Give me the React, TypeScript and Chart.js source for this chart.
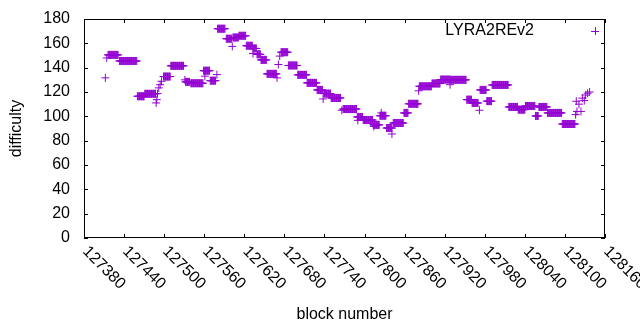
import React, { useEffect, useRef } from "react";
import { Chart, registerables } from "chart.js";

Chart.register(...registerables);

// Difficulty runs: each block from runStart[i] to runEnd[i] has difficulty runValue[i]
const runStart = [
  127412, 127414, 127416, 127433, 127460, 127471, 127488, 127489, 127490, 127492,
  127494, 127496, 127499, 127510, 127531, 127532, 127540, 127559, 127561, 127569,
  127579, 127580, 127593, 127602, 127603, 127612, 127623, 127633, 127633, 127639,
  127645, 127654, 127669, 127671, 127673, 127675, 127686, 127700, 127714, 127729,
  127738, 127739, 127750, 127766, 127768, 127789, 127790, 127798, 127813, 127814,
  127823, 127825, 127833, 127841, 127843, 127859, 127866, 127881, 127882, 127901,
  127914, 127928, 127929, 127953, 127961, 127972, 127973, 127983, 127991, 128016,
  128030, 128041, 128056, 128061, 128074, 128096, 128116, 128117, 128118, 128121,
  128124, 128126, 128129, 128131, 128134, 128137,
];
const runEnd = [
  127412, 127414, 127431, 127459, 127470, 127487, 127488, 127489, 127490, 127492,
  127494, 127496, 127509, 127529, 127531, 127538, 127558, 127568, 127561, 127577,
  127579, 127591, 127601, 127602, 127611, 127622, 127632, 127638, 127633, 127644,
  127653, 127668, 127669, 127671, 127673, 127685, 127699, 127713, 127728, 127737,
  127738, 127749, 127764, 127766, 127788, 127797, 127790, 127812, 127822, 127814,
  127832, 127825, 127841, 127841, 127858, 127865, 127880, 127881, 127900, 127913,
  127928, 127928, 127952, 127960, 127970, 127972, 127982, 127990, 128015, 128029,
  128040, 128055, 128060, 128073, 128095, 128115, 128116, 128117, 128118, 128121,
  128124, 128126, 128129, 128131, 128134, 128137,
];
const runValue = [
  131.6, 148, 150.5, 145.5, 116.5, 118.5, 111, 113.7, 118.7, 123.4,
  126, 128.8, 132.7, 141.5, 130, 128.3, 127.2, 137.5, 133, 129.3,
  134.3, 172, 163.8, 157.5, 164.8, 166.2, 158, 155.8, 151.6, 151,
  146.4, 134.9, 131.6, 142.6, 149.5, 152.7, 141.8, 134.1, 127.5, 121.7,
  114.3, 118.7, 115.1, 105, 106, 99.5, 96.7, 97, 93, 91.7,
  100.5, 102.8, 90.4, 85.5, 94.5, 102.8, 110.3, 121, 124.7, 127,
  130.2, 126, 130, 113.7, 111, 105, 121.7, 112.5, 125.8, 107.7,
  105.5, 108.5, 100.3, 107.7, 102.8, 93.7, 101.4, 112.4, 104, 110,
  104, 115, 113, 117.5, 119, 120,
];

const seriesName = "LYRA2REv2";
const xMin = 127380;
const xMax = 128160;
const xStep = 60;
const yMin = 0;
const yMax = 180;
const yStep = 20;
const xTitle = "block number";
const yTitle = "difficulty";

const COLOR = "#9400d3";
const FONT = "Liberation Sans";
const FONT_SIZE = 16;

function buildPoints() {
  const pts: { x: number; y: number }[] = [];
  for (let i = 0; i < runStart.length; i++) {
    for (let b = runStart[i]; b <= runEnd[i]; b++) {
      pts.push({ x: b, y: runValue[i] });
    }
  }
  return pts;
}

const framePlugin = {
  id: "gnuplotFrame",
  afterDraw(chart: any) {
    const ctx = chart.ctx;
    const { left, right, top, bottom } = chart.chartArea;
    const xs = chart.scales.x;
    const ys = chart.scales.y;
    const tick = 4;
    ctx.save();
    ctx.strokeStyle = "#000";
    ctx.lineWidth = 1;
    ctx.strokeRect(Math.round(left) + 0.5, Math.round(top) + 0.5, Math.round(right - left) - 1, Math.round(bottom - top) - 1);
    ctx.beginPath();
    xs.ticks.forEach((t: any) => {
      const px = Math.round(xs.getPixelForValue(t.value)) + 0.5;
      ctx.moveTo(px, bottom);
      ctx.lineTo(px, bottom - tick);
      ctx.moveTo(px, top);
      ctx.lineTo(px, top + tick);
    });
    ys.ticks.forEach((t: any) => {
      const py = Math.round(ys.getPixelForValue(t.value)) + 0.5;
      ctx.moveTo(left, py);
      ctx.lineTo(left + tick, py);
      ctx.moveTo(right, py);
      ctx.lineTo(right - tick, py);
    });
    ctx.stroke();

    // rotated x tick labels
    ctx.fillStyle = "#000";
    ctx.font = `${FONT_SIZE}px "${FONT}"`;
    ctx.textAlign = "left";
    ctx.textBaseline = "middle";
    xs.ticks.forEach((t: any) => {
      const px = xs.getPixelForValue(t.value);
      ctx.save();
      ctx.translate(px + 1, bottom + 11);
      ctx.rotate(Math.PI / 4);
      ctx.fillText(String(t.value), 0, 0);
      ctx.restore();
    });

    // legend
    const ly = top + 12;
    ctx.textAlign = "right";
    ctx.fillText(seriesName, right - 71, ly);
    ctx.strokeStyle = COLOR;
    ctx.beginPath();
    const lx = right - 10;
    ctx.moveTo(lx - 4, ly + 0.5);
    ctx.lineTo(lx + 4, ly + 0.5);
    ctx.moveTo(lx + 0.5, ly - 4);
    ctx.lineTo(lx + 0.5, ly + 4);
    ctx.stroke();
    ctx.restore();
  },
};

export default function App() {
  const ref = useRef<HTMLCanvasElement | null>(null);
  useEffect(() => {
    if (!ref.current) return;
    Chart.defaults.font.family = FONT;
    Chart.defaults.font.size = FONT_SIZE;
    Chart.defaults.color = "#000";
    const chart = new Chart(ref.current, {
      type: "scatter",
      data: {
        datasets: [
          {
            label: seriesName,
            data: buildPoints(),
            pointStyle: "cross",
            pointRadius: 4,
            pointBorderWidth: 1,
            borderColor: COLOR,
            backgroundColor: COLOR,
            showLine: false,
          },
        ],
      },
      options: {
        animation: false,
        responsive: false,
        events: [],
        layout: { padding: { top: 19, right: 35, left: 0, bottom: 0 }, autoPadding: false },
        plugins: { legend: { display: false }, tooltip: { enabled: false } },
        scales: {
          x: {
            type: "linear",
            min: xMin,
            max: xMax,
            ticks: { stepSize: xStep, display: false },
            grid: { display: false, drawTicks: false },
            border: { display: false },
            title: { display: true, text: xTitle, color: "#000", font: { size: FONT_SIZE }, padding: { bottom: 6, top: 0 } },
            afterFit: (s: any) => { s.height = 92; },
          },
          y: {
            min: yMin,
            max: yMax,
            ticks: { stepSize: yStep, padding: 0, color: "#000", font: { size: FONT_SIZE } },
            grid: { display: true, drawOnChartArea: false, drawTicks: true, tickLength: 14, tickColor: "rgba(0,0,0,0)" },
            border: { display: false },
            title: { display: true, text: yTitle, color: "#000", font: { size: FONT_SIZE }, padding: { top: 7, bottom: 0 } },
            afterFit: (s: any) => { s.width = 84; },
          },
        },
      },
      plugins: [framePlugin],
    } as any);
    return () => chart.destroy();
  }, []);
  return (
    <div style={{ position: "fixed", left: 0, top: 0, width: 640, height: 330, background: "#fff" }}>
      <canvas ref={ref} width={640} height={330} style={{ display: "block" }} />
    </div>
  );
}
